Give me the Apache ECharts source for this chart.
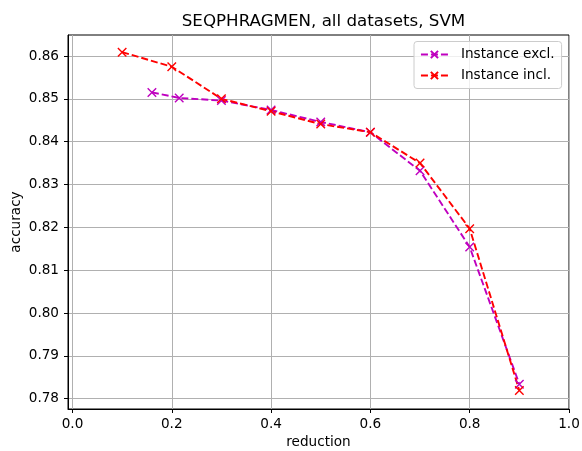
<!DOCTYPE html>
<html><head><meta charset="utf-8">
<script src="https://cdn.jsdelivr.net/npm/echarts@6/dist/echarts.min.js"></script>
<style>html,body{margin:0;padding:0;background:#fff}#c{width:582px;height:451px}</style>
</head><body><div id="c"></div>
<script>
const titleText = 'SEQPHRAGMEN, all datasets, SVM';
const xTicks = [0.0, 0.2, 0.4, 0.6, 0.8, 1.0];
const yTicks = [0.78, 0.79, 0.80, 0.81, 0.82, 0.83, 0.84, 0.85, 0.86];
const exclX = [0.16, 0.215, 0.3, 0.4, 0.5, 0.6, 0.7, 0.8, 0.9];
const exclY = [0.8515, 0.8502, 0.8496, 0.8474, 0.8446, 0.8422, 0.8332, 0.8154, 0.7834];
const inclX = [0.1, 0.2, 0.3, 0.4, 0.5, 0.6, 0.7, 0.8, 0.9];
const inclY = [0.8609, 0.8575, 0.8500, 0.8471, 0.8441, 0.8422, 0.8350, 0.8197, 0.7819];
const seriesNames = ['Instance excl.', 'Instance incl.'];

const xMark = 'path://M0,0L10,10M10,0L0,10';
const font = 'DejaVu Sans';
function mk(name, xs, ys, color) {
  return {
    name: name, type: 'line',
    data: xs.map((x, i) => [x, ys[i]]),
    symbol: xMark, symbolSize: 8.5,
    itemStyle: {color: color, borderColor: color, borderWidth: 1.4},
    lineStyle: {color: color, width: 1.9, type: [7, 3]},
    emphasis: {disabled: true},
    animation: false
  };
}
const chart = echarts.init(document.getElementById('c'), null, {renderer: 'canvas'});
chart.setOption({
  animation: false,
  title: {text: titleText, left: 318.5, textAlign: 'center', top: 8, textStyle: {fontFamily: font, fontSize: 16.7, fontWeight: 'normal', color: '#000'}},
  grid: {left: 68, right: 13, top: 35, bottom: 42, containLabel: false, outerBoundsMode: 'none', show: true, borderColor: '#000', borderWidth: 1, backgroundColor: 'transparent'},
  legend: {
    data: seriesNames, orient: 'vertical', left: 414, top: 41.5,
    backgroundColor: 'rgba(255,255,255,0.8)', borderColor: '#ccc', borderWidth: 1, borderRadius: 3,
    padding: [5, 7, 5, 6], itemGap: 5, itemWidth: 27, itemHeight: 9,
    lineStyle: {type: [7, 3], width: 1.9},
    textStyle: {fontFamily: font, fontSize: 13.6, lineHeight: 16, color: '#000', padding: [0, 0, 0, 8]}
  },
  xAxis: {
    type: 'value', min: -0.009, max: 1.0,
    name: 'reduction', nameLocation: 'middle', nameGap: 26, nameMoveOverlap: false,
    nameTextStyle: {fontFamily: font, fontSize: 13.6, color: '#000'},
    axisLine: {show: true, onZero: false, lineStyle: {color: '#000', width: 1}},
    axisTick: {show: true, length: 4, lineStyle: {color: '#000'}, customValues: xTicks},
    axisLabel: {customValues: xTicks, fontFamily: font, fontSize: 13.6, color: '#000', margin: 8, formatter: v => v.toFixed(1)},
    splitLine: {show: true, lineStyle: {color: '#b0b0b0', width: 1}}
  },
  yAxis: {
    type: 'value', min: 0.7776, max: 0.8649,
    name: 'accuracy', nameLocation: 'middle', nameGap: 45, nameMoveOverlap: false,
    nameTextStyle: {fontFamily: font, fontSize: 13.6, color: '#000'},
    axisLine: {show: true, onZero: false, lineStyle: {color: '#000', width: 1}},
    axisTick: {show: true, length: 4, lineStyle: {color: '#000'}, customValues: yTicks},
    axisLabel: {customValues: yTicks, fontFamily: font, fontSize: 13.6, color: '#000', margin: 9, formatter: v => v.toFixed(2)},
    splitLine: {show: true, lineStyle: {color: '#b0b0b0', width: 1}}
  },
  series: [mk(seriesNames[0], exclX, exclY, '#bf00bf'), mk(seriesNames[1], inclX, inclY, '#ff0000')]
});
</script></body></html>
